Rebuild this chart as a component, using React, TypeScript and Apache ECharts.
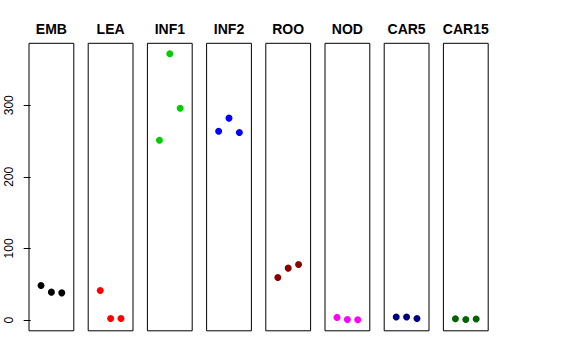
import React, { useEffect, useRef } from "react";
import * as echarts from "echarts";

const panels = ["EMB", "LEA", "INF1", "INF2", "ROO", "NOD", "CAR5", "CAR15"];
const colors = ["#000000", "#FF0000", "#00CD00", "#0000FF", "#8B0000", "#FF00FF", "#000080", "#006400"];
const xPositions = [1, 2, 3];
const EMB = [48.3, 39, 38];
const LEA = [41.3, 2.3, 2.3];
const INF1 = [251, 372, 295.8];
const INF2 = [263.7, 282, 261.9];
const ROO = [59.5, 72.5, 77.6];
const NOD = [3.7, 0.9, 0.5];
const CAR5 = [4.2, 4.2, 2.3];
const CAR15 = [1.8, 0.9, 1.4];
const seriesValues = [EMB, LEA, INF1, INF2, ROO, NOD, CAR5, CAR15];

const Y_MIN = -15;
const Y_MAX = 386.5;
const X_MIN = -0.16;
const X_MAX = 4.16;

const FONT = "Liberation Sans, Arial, Helvetica, sans-serif";

export default function App() {
  const ref = useRef<HTMLDivElement>(null);
  useEffect(() => {
    if (!ref.current) return;
    const chart = echarts.init(ref.current, null, { renderer: "svg" });
    const LEFT0 = 29;
    const STEP = 59.2;
    const W = 44.8;
    const TOP = 43.3;
    const H = 287.5;
    const grids = panels.map((_, i) => ({
      left: LEFT0 + i * STEP,
      top: TOP,
      width: W,
      height: H,
      show: true,
      borderColor: "#000",
      borderWidth: 1,
      backgroundColor: "transparent",
      containLabel: false,
    }));
    const titles = panels.map((p, i) => ({
      text: p,
      left: LEFT0 + i * STEP + W / 2,
      top: 22,
      textAlign: "center",
      padding: 0,
      textStyle: { fontSize: 14, fontWeight: "bold", fontFamily: FONT, color: "#000" },
    }));
    const xAxes = panels.map((_, i) => ({
      type: "value",
      gridIndex: i,
      min: X_MIN,
      max: X_MAX,
      show: false,
    }));
    const yAxes = panels.map((_, i) =>
      i === 0
        ? {
            type: "value",
            gridIndex: i,
            min: Y_MIN,
            max: Y_MAX,
            splitNumber: 4,
            axisLine: { show: false },
            axisTick: { show: true, length: 7, lineStyle: { color: "#000", width: 1 } },
            axisLabel: {
              rotate: 90,
              margin: 14,
              showMinLabel: false,
              showMaxLabel: false,
              color: "#000",
              fontSize: 12,
              fontFamily: FONT,
            },
            splitLine: { show: false },
          }
        : {
            type: "value",
            gridIndex: i,
            min: Y_MIN,
            max: Y_MAX,
            show: false,
            splitLine: { show: false },
          }
    );
    const series = panels.map((p, i) => ({
      type: "scatter",
      name: p,
      xAxisIndex: i,
      yAxisIndex: i,
      symbol: "circle",
      symbolSize: 7,
      itemStyle: { color: colors[i], opacity: 1 },
      data: xPositions.map((x, j) => [x, seriesValues[i][j]]),
    }));
    chart.setOption({
      animation: false,
      backgroundColor: "#fff",
      title: titles,
      grid: grids,
      xAxis: xAxes,
      yAxis: yAxes,
      series,
    });
    return () => chart.dispose();
  }, []);
  return <div ref={ref} style={{ width: 576, height: 360, position: "absolute", left: 0, top: 0 }} />;
}
